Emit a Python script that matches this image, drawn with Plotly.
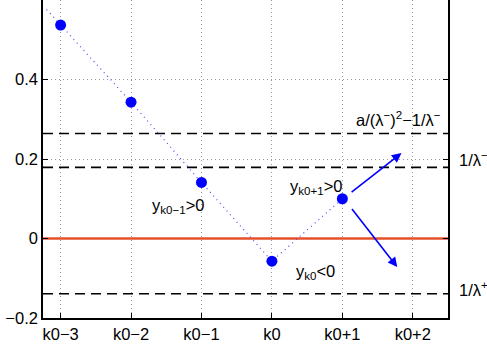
import plotly.graph_objects as go

# data
k_offsets = [-3, -2, -1, 0, 1, 2]
tick_labels = ["k0\u22123", "k0\u22122", "k0\u22121", "k0", "k0+1", "k0+2"]
point_x = [-3, -2, -1, 0, 1]
point_y = [0.537, 0.343, 0.141, -0.057, 0.100]
trend_x = [-3.2, -3, -2, -1, 0, 1]
trend_y = [0.576, 0.537, 0.343, 0.141, -0.057, 0.100]
level_a = 0.264   # a/(λ-)^2 - 1/λ-
level_lminus = 0.179  # 1/λ-
level_lplus = -0.139  # 1/λ+
zero_level = 0.0
y_ticks = [-0.2, 0, 0.2, 0.4]

x_range = [-3.25, 2.5]
y_range = [-0.2, 0.6]

fig = go.Figure()

# dashed reference levels
for lv in [level_a, level_lminus, level_lplus]:
    fig.add_trace(go.Scatter(x=x_range, y=[lv, lv], mode="lines",
                             line=dict(color="black", width=1.6, dash="10px,6px"),
                             hoverinfo="skip", showlegend=False))
# zero line
fig.add_trace(go.Scatter(x=x_range, y=[zero_level, zero_level], mode="lines",
                         line=dict(color="#e5502a", width=2.3),
                         hoverinfo="skip", showlegend=False))
# dotted trend
fig.add_trace(go.Scatter(x=trend_x, y=trend_y, mode="lines",
                         line=dict(color="#4a4aff", width=1.2, dash="1px,4px"),
                         hoverinfo="skip", showlegend=False))
# points
fig.add_trace(go.Scatter(x=point_x, y=point_y, mode="markers",
                         marker=dict(color="#0000ff", size=11),
                         showlegend=False))

font = dict(family="Liberation Sans, Arial, sans-serif", size=16.5, color="black")

annotations = [
    dict(x=2.43, y=level_a + 0.006, xref="x", yref="y", text="a/(\u03bb<sup>\u2212</sup>)<sup>2</sup>\u22121/\u03bb<sup>\u2212</sup>",
         showarrow=False, xanchor="right", yanchor="bottom", font=font),
    dict(x=1.022, y=0.2, xref="paper", yref="y", text="1/\u03bb<sup>\u2212</sup>",
         showarrow=False, xanchor="left", yanchor="middle", font=font),
    dict(x=1.022, y=-0.128, xref="paper", yref="y", text="1/\u03bb<sup>+</sup>",
         showarrow=False, xanchor="left", yanchor="middle", font=font),
    dict(x=-1.34, y=0.083, xref="x", yref="y", text="y<sub>k0\u22121</sub>&gt;0",
         showarrow=False, xanchor="center", yanchor="middle", font=font),
    dict(x=0.62, y=0.129, xref="x", yref="y", text="y<sub>k0+1</sub>&gt;0",
         showarrow=False, xanchor="center", yanchor="middle", font=font),
    dict(x=0.62, y=-0.085, xref="x", yref="y", text="y<sub>k0</sub>&lt;0",
         showarrow=False, xanchor="center", yanchor="middle", font=font),
    # arrows
    dict(x=1.84, y=0.215, ax=1.11, ay=0.114, xref="x", yref="y", axref="x", ayref="y",
         text="", showarrow=True, arrowhead=2, arrowsize=1.2, arrowwidth=1.6, arrowcolor="#0000ff"),
    dict(x=1.78, y=-0.072, ax=1.12, ay=0.078, xref="x", yref="y", axref="x", ayref="y",
         text="", showarrow=True, arrowhead=2, arrowsize=1.2, arrowwidth=1.6, arrowcolor="#0000ff"),
]

fig.update_layout(
    width=487, height=354,
    margin=dict(l=43, r=39, t=0, b=36),
    paper_bgcolor="white", plot_bgcolor="white",
    font=font,
    annotations=annotations,
    showlegend=False,
)
fig.update_xaxes(range=x_range, tickvals=k_offsets, ticktext=tick_labels,
                 showgrid=True, gridcolor="#9a9a9a", griddash="1px,3px", gridwidth=1,
                 showline=True, linecolor="black", linewidth=1.5, mirror=False,
                 ticks="inside", ticklen=5, tickcolor="black", zeroline=False,
                 tickfont=font)
fig.update_yaxes(range=y_range, tickvals=y_ticks,
                 showgrid=True, gridcolor="#9a9a9a", griddash="1px,3px", gridwidth=1,
                 showline=True, linecolor="black", linewidth=1.5, mirror="ticks",
                 ticks="inside", ticklen=5, tickcolor="black", zeroline=False,
                 tickfont=font)

fig.write_html("out.html", config={"displayModeBar": False},
               post_script="document.body.style.margin='0';document.body.style.padding='0';")
